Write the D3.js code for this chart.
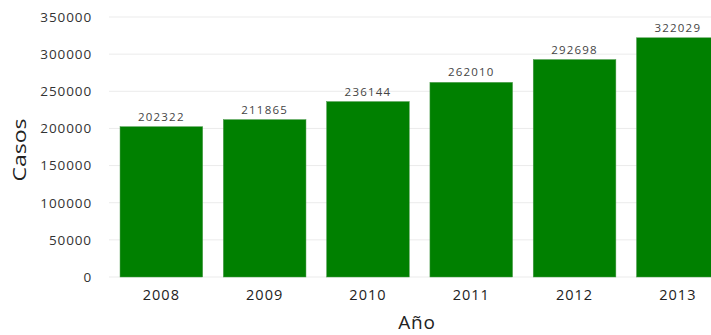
<!DOCTYPE html>
<html><head><meta charset="utf-8">
<script src="https://cdn.jsdelivr.net/npm/d3@7"></script>
<style>body{margin:0;background:#fff;} svg{display:block;}</style>
</head><body>
<script>
const years = ["2008","2009","2010","2011","2012","2013"];
const casos = [202322,211865,236144,262010,292698,322029];
const yTicks = [0,50000,100000,150000,200000,250000,300000,350000];

const W = 711, H = 335;
const svg = d3.select("body").append("svg").attr("width", W).attr("height", H);
const font = "'Open Sans', sans-serif";

const x = d3.scaleBand().domain(years).range([109.7, 729.5]).paddingInner(0.2).paddingOuter(0.1);
const y = d3.scaleLinear().domain([0,350000]).range([277,17]);

svg.append("g").selectAll("line").data(yTicks).join("line")
  .attr("x1",109).attr("x2",W).attr("y1",d=>y(d)).attr("y2",d=>y(d))
  .attr("stroke","#ebebeb").attr("stroke-width",1);

const yAxis = svg.append("g").attr("transform","translate(100,0)")
  .call(d3.axisLeft(y).tickValues(yTicks).tickSize(0).tickPadding(8).tickFormat(d3.format("d")));
yAxis.select(".domain").remove();
yAxis.selectAll("text").attr("font-family",font).attr("font-size",13.5).attr("letter-spacing",0.9).attr("fill","#333");

svg.append("g").selectAll("rect").data(casos).join("rect")
  .attr("x",(d,i)=>x(years[i])).attr("width",x.bandwidth())
  .attr("y",d=>y(d)).attr("height",d=>y(0)-y(d))
  .attr("fill","#008000").attr("stroke","#4a9a4a").attr("stroke-width",0.5);

svg.append("g").selectAll("text").data(casos).join("text")
  .attr("x",(d,i)=>x(years[i])+x.bandwidth()/2).attr("y",d=>y(d)-6)
  .attr("text-anchor","middle").attr("font-family",font).attr("font-size",11.5).attr("letter-spacing",1.2).attr("fill","#444")
  .text(d=>d);

const xAxis = svg.append("g").attr("transform","translate(0,277)")
  .call(d3.axisBottom(x).tickSize(0).tickPadding(13));
xAxis.select(".domain").remove();
xAxis.selectAll("text").attr("font-family",font).attr("font-size",14.5).attr("letter-spacing",1).attr("fill","#222");

svg.append("text").attr("x",417).attr("y",329).attr("text-anchor","middle")
  .attr("font-family",font).attr("font-size",19).attr("letter-spacing",0.8).attr("fill","#222").text("Año");

svg.append("text").attr("transform","translate(26,150) rotate(-90) scale(1.05,0.8)")
  .attr("text-anchor","middle").attr("font-family",font).attr("font-size",22).attr("fill","#222").text("Casos");
</script>
</body></html>
